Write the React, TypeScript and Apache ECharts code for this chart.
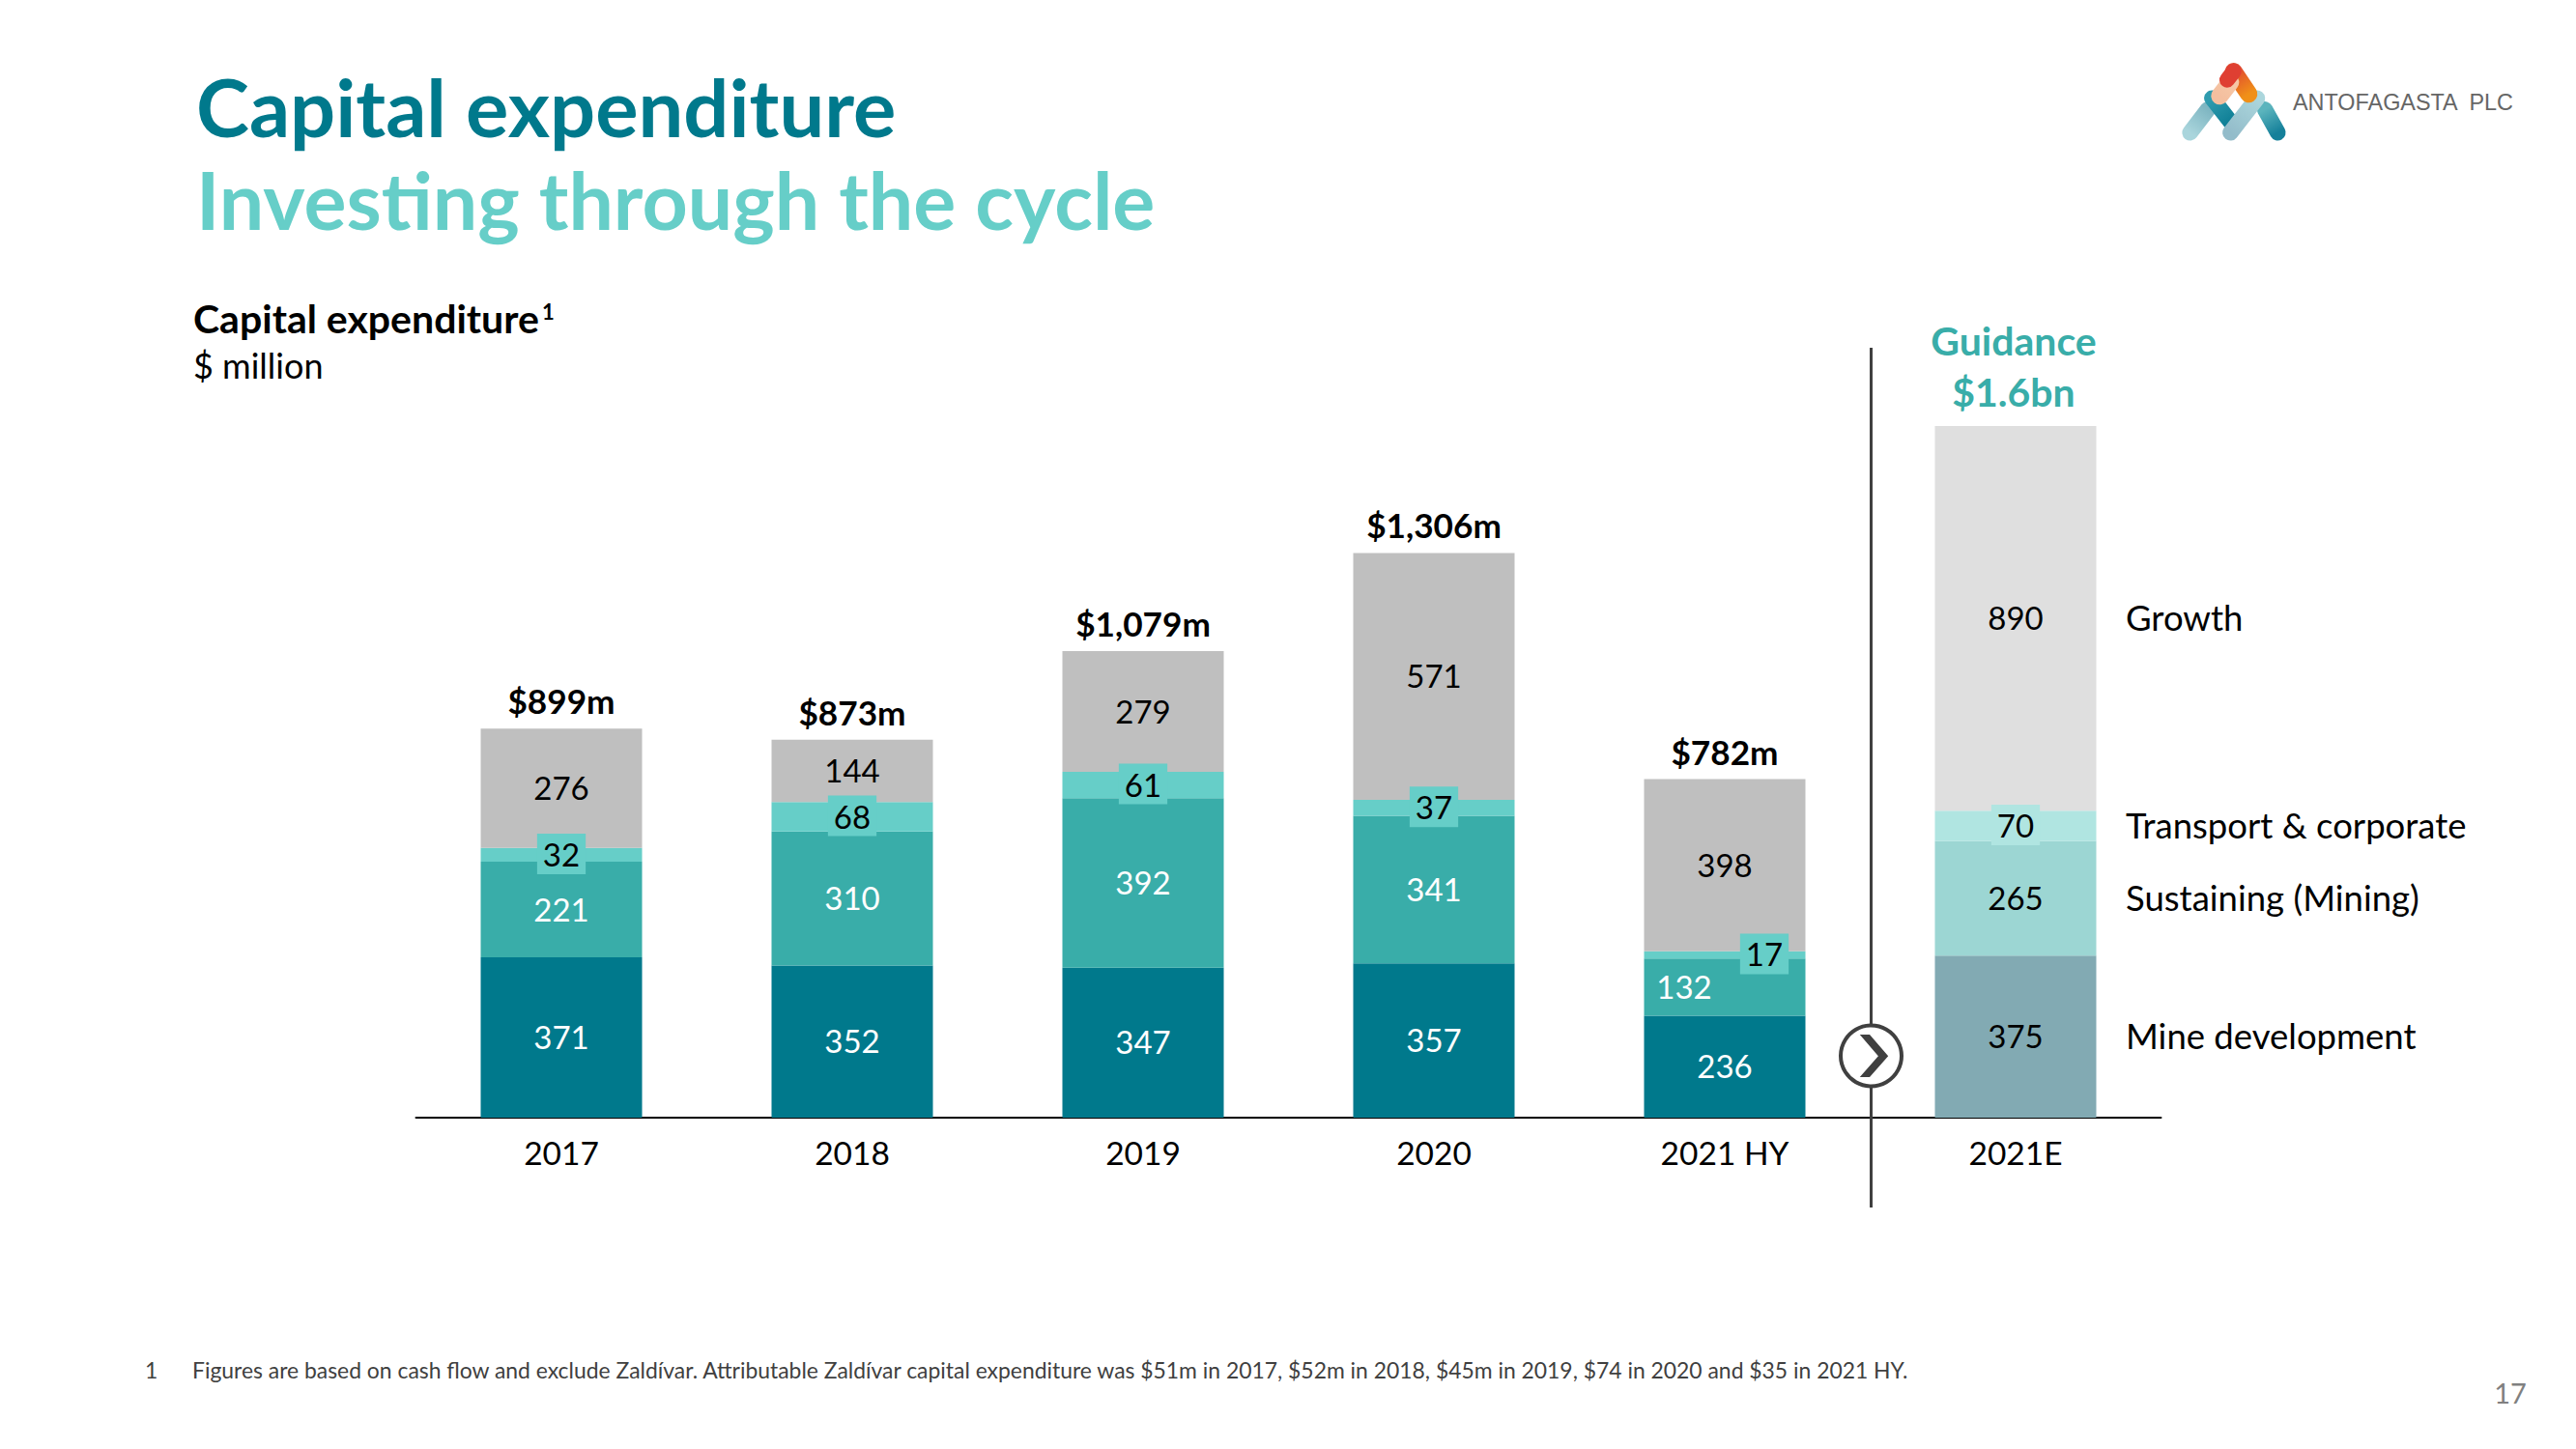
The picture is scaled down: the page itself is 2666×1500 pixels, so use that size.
import React, { useEffect, useRef } from "react";
import * as echarts from "echarts";

const categories = ["2017", "2018", "2019", "2020", "2021 HY", "2021E"];
const mineDevelopment = [371, 352, 347, 357, 236, 375];
const sustaining = [221, 310, 392, 341, 132, 265];
const transport = [32, 68, 61, 37, 17, 70];
const growth = [276, 144, 279, 571, 398, 890];
const totalLabels = ["$899m", "$873m", "$1,079m", "$1,306m", "$782m", "Guidance\n$1.6bn"];
const seriesNames = ["Mine development", "Sustaining (Mining)", "Transport & corporate", "Growth"];
const footnote =
  "Figures are based on cash flow and exclude Zaldívar. Attributable Zaldívar capital expenditure was $51m in 2017, $52m in 2018, $45m in 2019, $74 in 2020 and $35 in 2021 HY.";

const FONT = "Lato";
const LAST = categories.length - 1;
const BLACK = "#000000";

const stackValues = [mineDevelopment, sustaining, transport, growth];
const barColors = ["#00798C", "#39ADA9", "#66CEC8", "#BFBFBF"];
const guidanceColors = ["#82AAB3", "#9CD6D3", "#B0E5E1", "#DFDFDF"];

const barSeries = (k: number): any => ({
  name: seriesNames[k],
  type: "bar",
  stack: "capex",
  barWidth: 167,
  silent: true,
  data: stackValues[k].map((value, i) => {
    const small = k === 2;
    const light = k < 2 && i !== LAST;
    let offset: number[] = [0, -1];
    if (k === 2 && i === 4) offset = [41, -1];
    if (k === 1 && i === 4) offset = [-42, -1];
    return {
      value,
      itemStyle: { color: i === LAST ? guidanceColors[k] : barColors[k] },
      label: {
        show: true,
        position: "inside",
        offset,
        formatter: String(value),
        fontFamily: FONT,
        fontSize: 33,
        color: light ? "#FFFFFF" : BLACK,
        ...(small
          ? {
              backgroundColor: i === LAST ? guidanceColors[2] : barColors[2],
              padding: [6, 6, 6, 6],
              lineHeight: 30,
            }
          : {}),
      },
    };
  }),
});

const stackTotals = categories.map((_, i) => stackValues.reduce((s, v) => s + v[i], 0));
const legendMids = stackValues.map(
  (v, k) => stackValues.slice(0, k).reduce((s, a) => s + a[LAST], 0) + v[LAST] / 2,
);

const logoStroke = (
  x1: number, y1: number, x2: number, y2: number, from: string, to: string, lineWidth = 16.5,
): any => ({
  type: "line",
  shape: { x1: 2240 + x1 / 3, y1: 50 + y1 / 3, x2: 2240 + x2 / 3, y2: 50 + y2 / 3 },
  style: {
    lineWidth,
    lineCap: "round",
    stroke: new echarts.graphic.LinearGradient(
      2240 + x1 / 3, 50 + y1 / 3, 2240 + x2 / 3, 50 + y2 / 3,
      [{ offset: 0, color: from }, { offset: 1, color: to }], true,
    ),
  },
});

const txt = (
  text: string, x: number, y: number, fontSize: number, fill: string,
  extra: Record<string, any> = {},
): any => ({
  type: "text",
  x,
  y,
  style: { text, fontSize, fill, fontFamily: FONT, verticalAlign: "middle", align: "left", ...extra },
});

export default function App() {
  const ref = useRef<HTMLDivElement>(null);
  useEffect(() => {
    document.body.style.margin = "0";
    const chart = echarts.init(ref.current!, undefined, { renderer: "svg" });
    chart.setOption({
      animation: false,
      backgroundColor: "#FFFFFF",
      grid: { left: 430.5, width: 1806, top: 351.4, bottom: 343, containLabel: false },
      xAxis: {
        type: "category",
        data: categories,
        axisTick: { show: false },
        axisLine: { show: true, lineStyle: { color: BLACK, width: 2 } },
        axisLabel: { fontFamily: FONT, fontSize: 33.5, color: BLACK, margin: 19 },
      },
      yAxis: { type: "value", min: 0, max: 1800, show: false, splitLine: { show: false } },
      series: [
        barSeries(0),
        barSeries(1),
        barSeries(2),
        barSeries(3),
        {
          name: "Totals",
          type: "scatter",
          symbolSize: 0,
          silent: true,
          itemStyle: { opacity: 1 },
          data: stackTotals.map((t, i) => ({
            value: [i, t],
            label: {
              show: true,
              position: "top",
              distance: 9,
              offset: i === LAST ? [-2, 0] : [0, 0],
              formatter: totalLabels[i],
              fontFamily: FONT,
              fontWeight: "bold",
              fontSize: i === LAST ? 41 : 35.2,
              lineHeight: i === LAST ? 53 : 40,
              align: "center",
              color: i === LAST ? "#39ADA9" : BLACK,
            },
          })),
        },
        {
          name: "Series names",
          type: "scatter",
          symbolSize: 0,
          silent: true,
          itemStyle: { opacity: 1 },
          data: legendMids.map((m, k) => ({
            value: [LAST, m],
            label: {
              show: true,
              position: "right",
              distance: 114,
              offset: [0, -1],
              formatter: seriesNames[k],
              fontFamily: FONT,
              fontSize: 36.5,
              color: BLACK,
            },
          })),
        },
      ],
      graphic: [
        txt("Capital expenditure", 203, 110, 83, "#00798C", { fontWeight: "bold" }),
        txt("Investing through the cycle", 203, 206, 82.4, "#66CEC8", { fontWeight: "bold" }),
        txt("Capital expenditure", 200, 329, 41, BLACK, { fontWeight: "bold" }),
        txt("1", 561, 322, 22, BLACK, { fontWeight: "bold" }),
        txt("$ million", 200, 378, 36, BLACK),
        txt("1", 150, 1418, 22.9, "#404040"),
        txt(footnote, 199, 1418, 22.9, "#404040"),
        txt("17", 2598, 1441, 29, "#808080", { align: "center" }),
        { type: "line", z: 1, shape: { x1: 1936.5, y1: 360, x2: 1936.5, y2: 1250 }, style: { stroke: "#404040", lineWidth: 3 } },
        { type: "circle", z: 2, shape: { cx: 1936.5, cy: 1093, r: 31.5 }, style: { fill: "#FFFFFF", stroke: "#404040", lineWidth: 4 } },
        {
          type: "polygon",
          z: 3,
          shape: { points: [[1924.8, 1071], [1935, 1071], [1954.2, 1093.3], [1935, 1115], [1924.8, 1115], [1943.9, 1093.3]] },
          style: { fill: "#404040" },
        },
        logoStroke(80, 262, 135, 190, "#A9D5DC", "#7FB6C2"),
        logoStroke(312, 190, 352, 262, "#5BB4BD", "#15809A"),
        logoStroke(148, 155, 205, 228, "#2F9BAE", "#0F7F96"),
        logoStroke(205, 262, 288, 155, "#93BCCA", "#ABD6DC"),
        logoStroke(215, 72, 262, 142, "#E04A30", "#F09018", 18),
        logoStroke(205, 105, 172, 148, "#F6C7A6", "#F4BF9F", 18),
        logoStroke(215, 72, 195, 98, "#DF3F32", "#DF3F32", 16),
        txt("ANTOFAGASTA  PLC", 2373, 106, 23.4, "#666666", { fontFamily: "Liberation Sans" }),
      ],
    });
    return () => chart.dispose();
  }, []);
  return <div ref={ref} style={{ position: "absolute", left: 0, top: 0, width: 2666, height: 1500 }} />;
}
